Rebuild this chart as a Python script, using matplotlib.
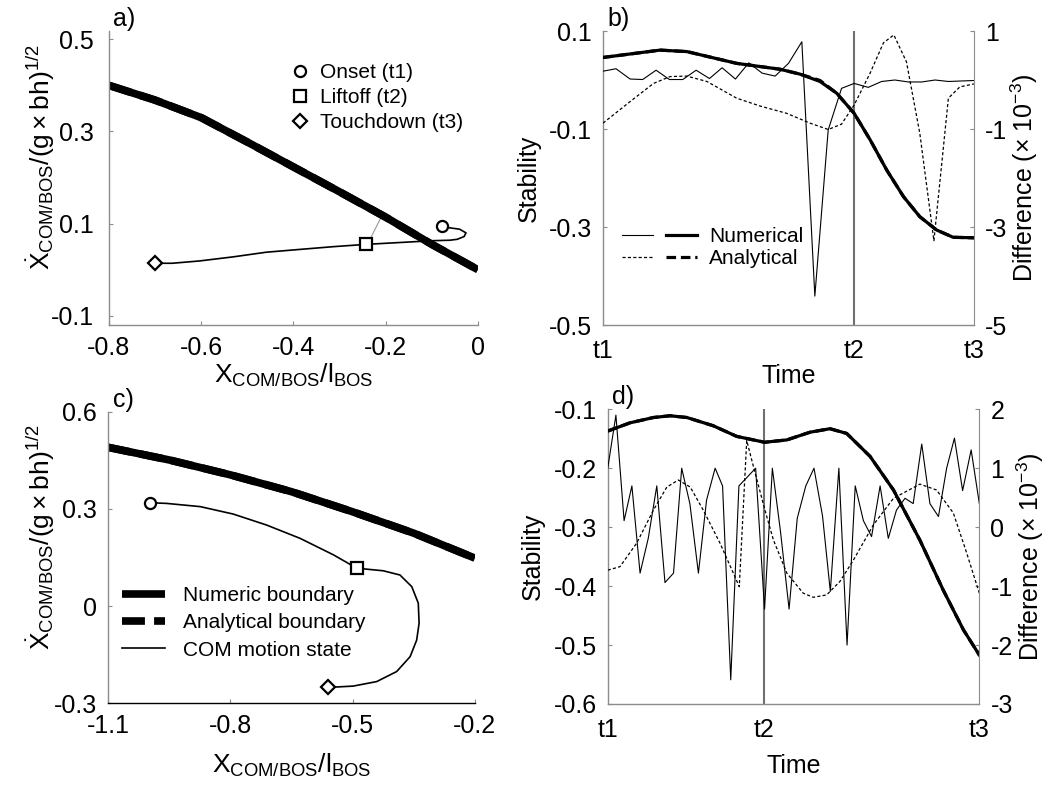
import numpy as np
import matplotlib
matplotlib.use("Agg")
import matplotlib.pyplot as plt
from matplotlib.lines import Line2D
from matplotlib.legend_handler import HandlerTuple

plt.rcParams['font.family'] = ['Liberation Sans', 'DejaVu Sans']
plt.rcParams['mathtext.fontset'] = 'custom'
plt.rcParams['mathtext.rm'] = 'Liberation Sans'
plt.rcParams['mathtext.it'] = 'Liberation Sans:italic'
plt.rcParams['mathtext.bf'] = 'Liberation Sans:bold'
plt.rcParams['mathtext.sf'] = 'Liberation Sans'
plt.rcParams['axes.unicode_minus'] = False

# ---- panel a: phase plane, boundary + COM trajectory
bound_a_x = [-0.8, -0.7, -0.6, -0.5, -0.4, -0.3, -0.2, -0.1, 0.0]
bound_a_y = [0.400, 0.368, 0.330, 0.277, 0.223, 0.169, 0.114, 0.055, 0.0]
traj_a_x = [-0.079, -0.062, -0.040, -0.026, -0.030, -0.045, -0.061, -0.098, -0.170,
            -0.243, -0.314, -0.387, -0.459, -0.530, -0.604, -0.663, -0.700]
traj_a_y = [0.095, 0.091, 0.088, 0.080, 0.072, 0.066, 0.064, 0.063, 0.059,
            0.055, 0.050, 0.044, 0.038, 0.028, 0.019, 0.014, 0.014]
liftoff_a = (-0.243, 0.055)
dist_a_x = [-0.236, -0.211]
dist_a_y = [0.062, 0.112]

# ---- panel c
bound_c_x = [-1.1, -0.95, -0.8, -0.65, -0.5, -0.35, -0.2]
bound_c_y = [0.490, 0.451, 0.405, 0.353, 0.291, 0.225, 0.148]
traj_c_x = [-0.998, -0.957, -0.874, -0.793, -0.711, -0.629, -0.547, -0.490, -0.425,
            -0.384, -0.355, -0.339, -0.337, -0.343, -0.359, -0.392, -0.441, -0.499, -0.560]
traj_c_y = [0.319, 0.317, 0.307, 0.284, 0.250, 0.209, 0.158, 0.117, 0.109,
            0.096, 0.060, 0.009, -0.053, -0.105, -0.156, -0.202, -0.233, -0.247, -0.251]
liftoff_c = (-0.490, 0.117)

# ---- panel b: stability over time (t1=0, t2=0.677, t3=1)
t2_b = 0.677
stab_b_t = [0.0, 0.154, 0.226, 0.360, 0.477, 0.531, 0.585, 0.630, 0.677, 0.720,
            0.765, 0.810, 0.854, 0.899, 0.944, 1.0]
stab_b_num = [0.046, 0.061, 0.058, 0.034, 0.022, 0.012, -0.003, -0.027, -0.068, -0.122,
              -0.184, -0.238, -0.279, -0.306, -0.321, -0.322]
stab_b_ana = [0.046, 0.061, 0.058, 0.034, 0.022, 0.012, -0.001, -0.027, -0.068, -0.122,
              -0.184, -0.238, -0.279, -0.306, -0.321, -0.322]
diffn_b_t = [0.0, 0.035, 0.073, 0.107, 0.143, 0.179, 0.215, 0.251, 0.287, 0.321, 0.357,
             0.393, 0.429, 0.464, 0.500, 0.536, 0.571, 0.607, 0.643, 0.677, 0.715,
             0.751, 0.787, 0.823, 0.859, 0.895, 0.931, 1.0]
diffn_b = [0.18, 0.23, 0.02, 0.01, 0.20, 0.01, 0.01, 0.20, 0.03, 0.25, 0.02,
           0.35, 0.14, 0.08, 0.34, 0.78, -4.41, -1.02, -0.17, -0.07, -0.15,
           -0.03, 0.0, -0.04, -0.04, 0.0, -0.03, -0.01]
diffa_b_t = [0.0, 0.073, 0.136, 0.181, 0.226, 0.280, 0.360, 0.423, 0.495, 0.558, 0.607,
             0.643, 0.677, 0.720, 0.756, 0.784, 0.818, 0.854, 0.892, 0.931, 0.962, 1.0]
diffa_b = [-0.88, -0.44, -0.07, 0.07, 0.08, -0.03, -0.37, -0.53, -0.68, -0.88, -1.01,
           -0.90, -0.51, 0.14, 0.76, 0.92, 0.37, -1.09, -3.28, -0.37, -0.14, -0.08]

# ---- panel d
t2_d = 0.421
stab_d_t = [0.0, 0.060, 0.123, 0.168, 0.213, 0.284, 0.347, 0.422, 0.482, 0.544, 0.598,
            0.643, 0.706, 0.769, 0.840, 0.903, 0.957, 1.0]
stab_d_num = [-0.137, -0.123, -0.114, -0.111, -0.114, -0.128, -0.146, -0.156, -0.152,
              -0.139, -0.133, -0.141, -0.180, -0.237, -0.322, -0.407, -0.474, -0.517]
stab_d_ana = stab_d_num
diffn_d_t = [0.0, 0.022, 0.044, 0.065, 0.087, 0.109, 0.132, 0.154, 0.177, 0.199, 0.221,
             0.244, 0.266, 0.289, 0.309, 0.331, 0.353, 0.398, 0.422, 0.443, 0.465, 0.488,
             0.510, 0.533, 0.555, 0.578, 0.599, 0.622, 0.644, 0.666, 0.688, 0.710, 0.733,
             0.755, 0.777, 0.800, 0.822, 0.845, 0.867, 0.890, 0.912, 0.933, 0.955, 0.978, 1.0]
diffn_d = [1.00, 1.90, 0.11, 0.70, -0.78, -0.19, 0.70, -0.94, -0.78, 1.00, 0.40,
           -0.78, 0.46, 1.00, 0.70, -2.59, 0.70, 1.00, -1.39, 1.00, -0.08, -1.39,
           0.15, 0.70, 1.00, 0.19, -1.09, 1.00, -2.00, 0.70, 0.11, -0.16, 0.70,
           -0.19, 0.29, 0.49, 0.40, 1.41, 0.40, 0.18, 1.00, 1.51, 0.62, 1.31, 0.40]
diffa_d_t = [0.0, 0.033, 0.078, 0.123, 0.159, 0.190, 0.222, 0.257, 0.302, 0.338, 0.354,
             0.374, 0.392, 0.423, 0.446, 0.482, 0.526, 0.553, 0.589, 0.625, 0.661, 0.715,
             0.769, 0.840, 0.885, 0.930, 0.966, 1.0]
diffa_d = [-0.73, -0.67, -0.27, 0.29, 0.68, 0.80, 0.68, 0.29, -0.27, -0.78, -1.01,
           1.47, 1.03, 0.29, -0.22, -0.78, -1.12, -1.19, -1.15, -0.92, -0.56, 0.04,
           0.49, 0.73, 0.63, 0.24, -0.44, -1.12]

GREY = '#8c8c8c'
FS = 18
LFS = 15
ylab_phase = r'$\dot{\mathrm{X}}_{\mathrm{COM/BOS}}/(\mathrm{g}\times\mathrm{bh})^{1/2}$'
xlab_phase = r'$\mathrm{X}_{\mathrm{COM/BOS}}/\mathrm{l}_{\mathrm{BOS}}$'
DASH_THICK = (0, (3, 1.2))

fig = plt.figure(figsize=(10.5, 7.91), dpi=100)
ax_a = fig.add_axes([0.1038, 0.5891, 0.3514, 0.3717])
ax_b = fig.add_axes([0.5743, 0.5891, 0.3533, 0.3717])
ax_c = fig.add_axes([0.1031, 0.1109, 0.3492, 0.3686])
ax_d = fig.add_axes([0.5788, 0.1100, 0.3539, 0.3726])


def style_axes(ax, pad=8):
    for s in ['top', 'right']:
        ax.spines[s].set_visible(False)
    for s in ['left', 'bottom']:
        ax.spines[s].set_color(GREY)
        ax.spines[s].set_linewidth(1.0)
    ax.tick_params(direction='in', length=3, color=GREY, labelsize=FS, pad=pad)


def phase_panel(ax, bx, by, tx, ty, lift, label, ypad):
    style_axes(ax)
    ax.tick_params(axis='y', pad=ypad)
    ax.plot(bx, by, color='black', lw=5.5, solid_capstyle='butt', zorder=2)
    ax.plot(bx, by, color='black', lw=5.5, ls=DASH_THICK, zorder=2)
    ax.plot(tx, ty, color='black', lw=1.2, zorder=3)
    mk = dict(mfc='white', mec='black', mew=1.6, ms=8, ls='None', zorder=4)
    ax.plot(tx[0], ty[0], marker='o', **mk)
    ax.plot(lift[0], lift[1], marker='s', **mk)
    ax.plot(tx[-1], ty[-1], marker='D', **dict(mk, ms=7))
    ax.set_ylabel(ylab_phase, fontsize=FS + 1)
    ax.text(0.012, 1.0, label, transform=ax.transAxes, fontsize=FS, va='bottom')


# a)
phase_panel(ax_a, bound_a_x, bound_a_y, traj_a_x, traj_a_y, liftoff_a, 'a)', 11)
ax_a.plot(dist_a_x, dist_a_y, color='#999999', lw=0.8, zorder=1)
ax_a.set_xlim(-0.8, 0.0)
ax_a.set_ylim(-0.12, 0.518)
ax_a.set_xticks([-0.8, -0.6, -0.4, -0.2, 0.0])
ax_a.set_xticklabels(['-0.8', '-0.6', '-0.4', '-0.2', '0'])
ax_a.set_yticks([-0.1, 0.1, 0.3, 0.5])
ax_a.set_yticklabels(['-0.1', '0.1', '0.3', '0.5'])
ax_a.set_xlabel(xlab_phase, fontsize=FS + 1, labelpad=1)
ax_a.yaxis.set_label_coords(-0.14, 0.57)
mk_leg = dict(mfc='white', mec='black', mew=1.6, ls='None', color='black')
leg_a = [Line2D([], [], marker='o', ms=8, **mk_leg),
         Line2D([], [], marker='s', ms=8, **mk_leg),
         Line2D([], [], marker='D', ms=7, **mk_leg)]
ax_a.legend(leg_a, ['Onset (t1)', 'Liftoff (t2)', 'Touchdown (t3)'], loc='upper right',
            bbox_to_anchor=(1.01, 0.955), frameon=False, fontsize=LFS,
            handlelength=1.0, handletextpad=0.45, labelspacing=0.3)

# c)
phase_panel(ax_c, bound_c_x, bound_c_y, traj_c_x, traj_c_y, liftoff_c, 'c)', 8)
ax_c.spines['bottom'].set_color('black')
ax_c.set_xlim(-1.1, -0.2)
ax_c.set_ylim(-0.3, 0.6)
ax_c.set_xticks([-1.1, -0.8, -0.5, -0.2])
ax_c.set_yticks([-0.3, 0.0, 0.3, 0.6])
ax_c.set_yticklabels(['-0.3', '0', '0.3', '0.6'])
ax_c.set_xlabel(xlab_phase, fontsize=FS + 1, labelpad=10)
ax_c.yaxis.set_label_coords(-0.14, 0.57)
leg_c = [Line2D([], [], color='black', lw=5.5, solid_capstyle='butt'),
         Line2D([], [], color='black', lw=5.5, ls=DASH_THICK),
         Line2D([], [], color='black', lw=1.2)]
ax_c.legend(leg_c, ['Numeric boundary', 'Analytical boundary', 'COM motion state'],
            loc='lower left', bbox_to_anchor=(-0.015, 0.085), frameon=False,
            fontsize=LFS, handlelength=2.1, handletextpad=0.85, labelspacing=0.4)


def time_panel(ax, t2, st_t, st_num, st_ana, dn_t, dn, da_t, da, ylim_l, ylim_r,
               yt_l, yt_r, label, xpad):
    style_axes(ax)
    ax2 = ax.twinx()
    for s in ['top', 'left', 'bottom']:
        ax2.spines[s].set_visible(False)
    ax2.spines['right'].set_color(GREY)
    ax2.tick_params(direction='in', length=3, color=GREY, labelsize=FS, pad=8)
    ax.axvline(t2, color='#707070', lw=1.5, zorder=1)
    ax.plot(st_t, st_num, color='black', lw=2.3, zorder=3)
    ax.plot(st_t, st_ana, color='black', lw=2.3, ls=(0, (3, 1.5)), zorder=3)
    ax2.plot(dn_t, dn, color='black', lw=0.8)
    ax2.plot(da_t, da, color='black', lw=0.9, ls=(0, (2.5, 1.8)))
    ax.set_xlim(0, 1)
    ax.set_xticks([0, t2, 1])
    ax.set_xticklabels(['t1', 't2', 't3'])
    ax.tick_params(axis='x', length=0, pad=10)
    ax.set_ylim(*ylim_l)
    ax.set_yticks(yt_l)
    ax2.set_ylim(*ylim_r)
    ax2.set_yticks(yt_r)
    ax.set_xlabel('Time', fontsize=FS, labelpad=xpad)
    ax.set_ylabel('Stability', fontsize=FS, labelpad=6)
    ax2.set_ylabel(r'Difference ($\times$ 10$^{-3}$)', fontsize=FS, labelpad=1)
    ax.text(0.012, 1.0, label, transform=ax.transAxes, fontsize=FS, va='bottom')
    return ax2


# b)
ax_b2 = time_panel(ax_b, t2_b, stab_b_t, stab_b_num, stab_b_ana, diffn_b_t, diffn_b,
                   diffa_b_t, diffa_b, (-0.5, 0.1), (-5, 1),
                   [-0.5, -0.3, -0.1, 0.1], [-5, -3, -1, 1], 'b)', 1)
ax_b.set_yticklabels(['-0.5', '-0.3', '-0.1', '0.1'])
h_num = (Line2D([], [], color='black', lw=0.8), Line2D([], [], color='black', lw=2.3))
h_ana = (Line2D([], [], color='black', lw=0.9, ls=(0, (2.5, 1.8))),
         Line2D([], [], color='black', lw=2.3, ls=(0, (3, 1.5))))
ax_b2.legend([h_num, h_ana], ['Numerical', 'Analytical'], loc='lower left',
             bbox_to_anchor=(0.0, 0.13), frameon=False, fontsize=LFS,
             handler_map={tuple: HandlerTuple(ndivide=None, pad=0.6)},
             handlelength=3.6, handletextpad=0.6, labelspacing=0.15)

# d)
time_panel(ax_d, t2_d, stab_d_t, stab_d_num, stab_d_ana, diffn_d_t, diffn_d,
           diffa_d_t, diffa_d, (-0.6, -0.1), (-3, 2),
           [-0.6, -0.5, -0.4, -0.3, -0.2, -0.1], [-3, -2, -1, 0, 1, 2], 'd)', 9)
ax_d.set_yticklabels(['-0.6', '-0.5', '-0.4', '-0.3', '-0.2', '-0.1'])

fig.savefig('out.png', dpi=100)
